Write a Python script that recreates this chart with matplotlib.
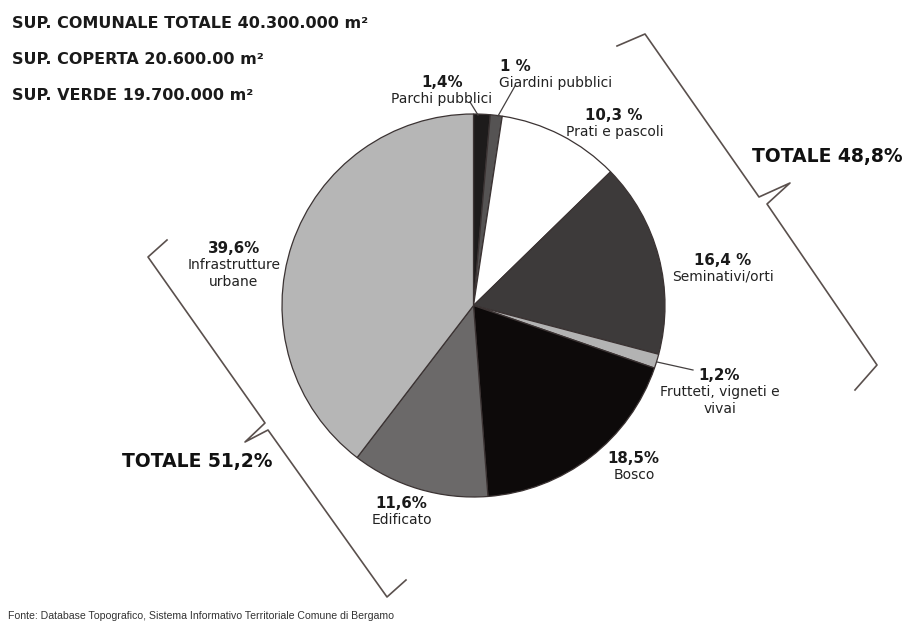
import numpy as np
import matplotlib
matplotlib.use("Agg")
import matplotlib.pyplot as plt

# dati (percentuali della superficie comunale)
categories = ["Parchi pubblici", "Giardini pubblici", "Prati e pascoli",
              "Seminativi/orti", "Frutteti, vigneti e\nvivai", "Bosco",
              "Edificato", "Infrastrutture\nurbane"]
values = [1.4, 1.0, 10.3, 16.4, 1.2, 18.5, 11.6, 39.6]
pct_labels = ["1,4%", "1 %", "10,3 %", "16,4 %", "1,2%", "18,5%", "11,6%", "39,6%"]

header = ["SUP. COMUNALE TOTALE 40.300.000 m²",
          "SUP. COPERTA 20.600.00 m²",
          "SUP. VERDE 19.700.000 m²"]
totals = ["TOTALE 48,8%", "TOTALE 51,2%"]
source = "Fonte: Database Topografico, Sistema Informativo Territoriale Comune di Bergamo"

# stile
colors = ["#1d1b1b", "#555353", "#ffffff", "#3d3a3a",
          "#b3b3b3", "#0d0a0a", "#6b6969", "#b6b6b6"]
# posizioni etichette in pixel (x centro, baseline della percentuale)
label_pos = [(442, 87), (515, 71), (614, 120), (723, 265),
             (719, 380), (633, 463), (401, 508), (234, 253)]
name_dx = [0, 41, 1, 0, 1, 1, 1, 0]

W, H = 907, 622
fig = plt.figure(figsize=(W / 100, H / 100), dpi=100)
ax = fig.add_axes([0, 0, 1, 1])

cx, cy, r = 473.5, 305.5, 191.5
ax.pie(values, colors=colors, startangle=90, counterclock=False,
       center=(cx, H - cy), radius=r,
       wedgeprops=dict(edgecolor="#3b3333", linewidth=0.9))
ax.set_xlim(0, W)
ax.set_ylim(0, H)
ax.set_aspect("equal")
ax.axis("off")

for (x, y), dx, pct, name in zip(label_pos, name_dx, pct_labels, categories):
    ax.text(x, H - y, pct, ha="center", va="baseline", fontsize=10.8,
            fontweight="bold", color="#1a1a1a")
    for k, line in enumerate(name.split("\n")):
        ax.text(x + dx, H - y - 16 - 17 * k, line, ha="center", va="baseline",
                fontsize=10, color="#222222")

# linee di richiamo
leader = [((470, 102), (478, 115)), ((515, 86), (498, 116)),
          ((657, 362), (693, 370))]
for (x0, y0), (x1, y1) in leader:
    ax.plot([x0, x1], [H - y0, H - y1], color="#444040", lw=0.9)

# intestazione
for i, t in enumerate(header):
    ax.text(12, H - (28 + i * 36), t, ha="left", va="baseline",
            fontsize=11.5, fontweight="bold", color="#1a1a1a")

# parentesi graffe
brace_r = [(617, 46), (645, 34), (759, 197), (790, 183), (767, 204),
           (877, 365), (855, 390)]
brace_l = [(167, 240), (148, 257), (265, 423), (245, 442), (268, 430),
           (387, 597), (406, 580)]
for pts in (brace_r, brace_l):
    xs = [p[0] for p in pts]
    ys = [H - p[1] for p in pts]
    ax.plot(xs, ys, color="#5a504d", lw=1.2, solid_joinstyle="round")

ax.text(752, H - 162, totals[0], ha="left", va="baseline", fontsize=13.5,
        fontweight="bold", color="#111111")
ax.text(122, H - 467, totals[1], ha="left", va="baseline", fontsize=13.5,
        fontweight="bold", color="#111111")

ax.text(8, H - 619, source, ha="left", va="baseline", fontsize=7.6,
        family="Liberation Sans", color="#333333")

plt.savefig("out.png", dpi=100)
